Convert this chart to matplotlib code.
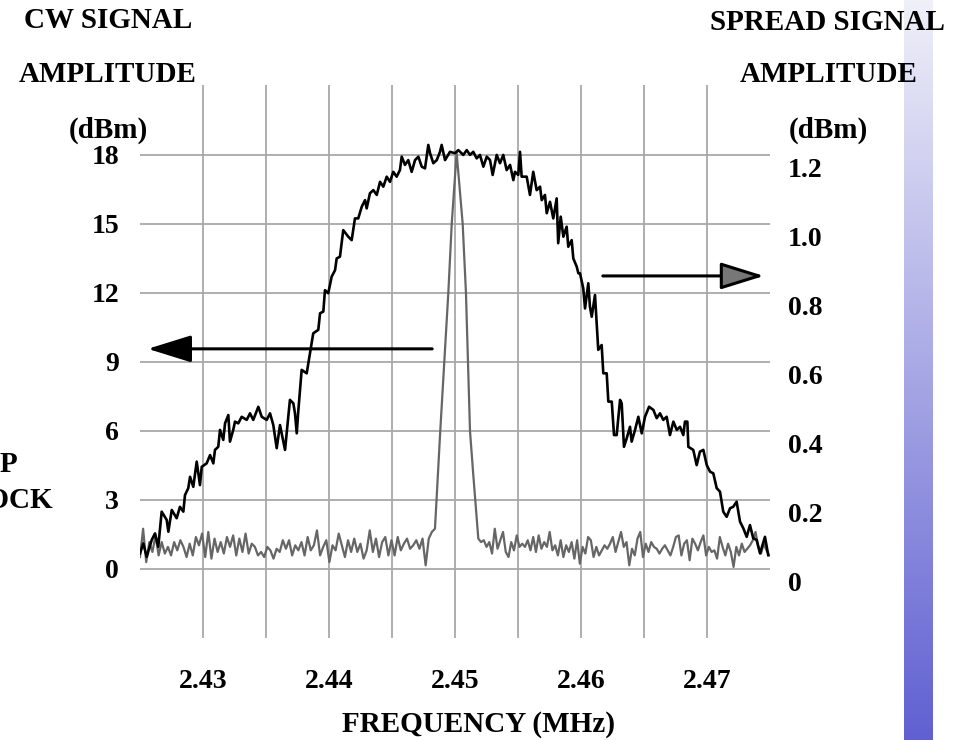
import numpy as np
import matplotlib
matplotlib.use("Agg")
import matplotlib.pyplot as plt

plt.rcParams["font.family"] = ["Liberation Serif", "DejaVu Serif"]
plt.rcParams["font.weight"] = "bold"

# spread signal (black, right axis)
spread_freq = [
    2.42500, 2.42526, 2.42553, 2.42593, 2.42619, 2.42645, 2.42672, 2.42712, 2.42725, 2.42752,
    2.42791, 2.42817, 2.42844, 2.42857, 2.42883, 2.42897, 2.42923, 2.42950, 2.42976, 2.42990,
    2.43029, 2.43056, 2.43082, 2.43095, 2.43121, 2.43135, 2.43161, 2.43175, 2.43201, 2.43214,
    2.43240, 2.43254, 2.43280, 2.43307, 2.43347, 2.43373, 2.43399, 2.43439, 2.43466, 2.43506,
    2.43532, 2.43558, 2.43585, 2.43611, 2.43651, 2.43690, 2.43717, 2.43730, 2.43744, 2.43756,
    2.43783, 2.43823, 2.43849, 2.43875, 2.43915, 2.43929, 2.43955, 2.43968, 2.43994, 2.44021,
    2.44048, 2.44061, 2.44087, 2.44113, 2.44153, 2.44180, 2.44206, 2.44232, 2.44260, 2.44286,
    2.44299, 2.44325, 2.44352, 2.44379, 2.44405, 2.44431, 2.44458, 2.44484, 2.44510, 2.44537,
    2.44563, 2.44577, 2.44603, 2.44629, 2.44656, 2.44683, 2.44709, 2.44736, 2.44762, 2.44788,
    2.44802, 2.44828, 2.44855, 2.44881, 2.44894, 2.44921,
    2.44960, 2.45000, 2.45026, 2.45066, 2.45093, 2.45119, 2.45145, 2.45172, 2.45198, 2.45225,
    2.45252, 2.45278, 2.45299, 2.45331, 2.45357, 2.45383, 2.45410, 2.45437, 2.45463, 2.45476,
    2.45502, 2.45516, 2.45529, 2.45569, 2.45595, 2.45621, 2.45648, 2.45675, 2.45688, 2.45714,
    2.45728, 2.45754, 2.45780, 2.45807, 2.45819, 2.45839, 2.45860, 2.45886, 2.45899, 2.45926,
    2.45939, 2.45966, 2.45979, 2.45992, 2.46018, 2.46032, 2.46058, 2.46071, 2.46085, 2.46111,
    2.46137, 2.46164, 2.46177, 2.46204, 2.46217, 2.46244, 2.46262, 2.46283, 2.46310, 2.46323,
    2.46341, 2.46363, 2.46389, 2.46402, 2.46429, 2.46455, 2.46482, 2.46508, 2.46540, 2.46574,
    2.46601, 2.46627, 2.46653, 2.46680, 2.46706, 2.46733, 2.46760, 2.46786, 2.46812, 2.46825,
    2.46844, 2.46852, 2.46891, 2.46918, 2.46944, 2.46971, 2.46998, 2.47024, 2.47050, 2.47077,
    2.47103, 2.47129, 2.47156, 2.47183, 2.47208, 2.47235, 2.47262, 2.47288, 2.47315, 2.47341,
    2.47367, 2.47394, 2.47421, 2.47460, 2.47486,
]
spread_amp = [
    0.080, 0.109, 0.070, 0.119, 0.138, 0.099, 0.201, 0.177, 0.143, 0.206,
    0.182, 0.215, 0.201, 0.249, 0.269, 0.302, 0.273, 0.346, 0.278, 0.331,
    0.341, 0.365, 0.341, 0.380, 0.389, 0.438, 0.409, 0.457, 0.481, 0.404,
    0.438, 0.462, 0.457, 0.476, 0.467, 0.486, 0.467, 0.505, 0.476, 0.467,
    0.486, 0.452, 0.385, 0.452, 0.380, 0.525, 0.515, 0.486, 0.428, 0.491,
    0.612, 0.602, 0.660, 0.718, 0.728, 0.776, 0.781, 0.843, 0.834, 0.882,
    0.901, 0.935, 0.940, 1.017, 0.998, 0.988, 1.051, 1.051, 1.085, 1.104,
    1.080, 1.124, 1.133, 1.119, 1.157, 1.143, 1.172, 1.157, 1.186, 1.172,
    1.191, 1.230, 1.206, 1.220, 1.186, 1.220, 1.230, 1.201, 1.196, 1.264,
    1.240, 1.211, 1.220, 1.244, 1.264, 1.220,
    1.244, 1.240, 1.249, 1.235, 1.249, 1.235, 1.244, 1.225, 1.235, 1.201,
    1.230, 1.220, 1.177, 1.235, 1.211, 1.235, 1.191, 1.206, 1.162, 1.186,
    1.177, 1.244, 1.172, 1.172, 1.119, 1.186, 1.133, 1.143, 1.104, 1.119,
    1.066, 1.099, 1.051, 1.109, 0.979, 1.056, 0.998, 1.027, 0.969, 0.988,
    0.935, 0.911, 0.892, 0.892, 0.848, 0.790, 0.863, 0.795, 0.766, 0.829,
    0.670, 0.684, 0.602, 0.602, 0.520, 0.520, 0.423, 0.423, 0.525, 0.515,
    0.389, 0.414, 0.447, 0.404, 0.438, 0.476, 0.428, 0.476, 0.505, 0.496,
    0.472, 0.486, 0.467, 0.476, 0.423, 0.462, 0.438, 0.447, 0.423, 0.462,
    0.462, 0.389, 0.380, 0.336, 0.375, 0.380, 0.336, 0.317, 0.312, 0.269,
    0.259, 0.201, 0.186, 0.211, 0.215, 0.230, 0.172, 0.153, 0.128, 0.162,
    0.124, 0.119, 0.080, 0.128, 0.075,
]

# CW signal (gray, left axis): noise floor left, peak, noise floor right
cw_left_amp = [
    0.52, 1.75, 0.30, 1.17, 0.74, 1.46, 0.59, 1.17, 0.67, 0.96, 0.59, 1.17, 0.81, 1.25, 0.96, 0.52,
    1.10, 0.59, 1.39, 1.03, 1.54, 0.52, 1.61, 0.45, 1.32, 0.74, 1.17, 0.67, 1.39, 0.96, 1.46, 0.59,
    1.32, 0.74, 1.54, 0.67, 1.10, 0.96, 0.59, 0.74, 0.52, 0.96, 0.81, 0.45, 0.88, 0.74, 1.25, 0.88,
    1.25, 0.59, 1.03, 0.81, 1.17, 0.59, 1.39, 0.81, 1.03, 1.68, 0.59, 0.96, 1.25, 0.30, 1.03, 0.81,
    1.54, 1.03, 0.52, 1.25, 0.74, 1.32, 0.74, 1.10, 0.45, 0.81, 1.68, 0.74, 1.32, 0.52, 1.17, 1.39,
    0.59, 1.25, 0.59, 1.39, 0.81, 1.10, 1.32, 0.88, 1.03, 1.25, 0.88, 1.32, 0.16, 1.32, 1.61, 1.75,
]
cw_peak_freq = [2.44883, 2.44947, 2.44974, 2.45013, 2.45061, 2.45087, 2.45119, 2.45145]
cw_peak_amp = [6.0, 12.0, 15.0, 18.1, 15.0, 12.0, 6.0, 4.1]
cw_right_amp = [
    1.32, 1.17, 1.25, 0.96, 1.17, 0.67, 1.75, 0.88, 1.25, 1.61, 0.74, 0.52, 1.17, 0.81, 1.46, 0.96,
    1.10, 0.96, 1.25, 0.81, 1.39, 0.74, 1.46, 0.88, 1.17, 0.96, 1.61, 0.81, 1.03, 0.59, 1.25, 0.52,
    1.03, 0.74, 1.17, 0.45, 1.25, 0.23, 0.96, 0.67, 1.39, 1.25, 0.52, 0.96, 0.59, 0.81, 1.03, 0.88,
    1.10, 1.39, 0.74, 1.17, 1.61, 0.96, 1.17, 0.16, 0.88, 0.59, 1.32, 1.61, 0.52, 1.10, 0.74, 1.17,
    0.96, 0.88, 0.67, 0.88, 1.03, 0.81, 0.59, 0.96, 1.39, 1.46, 0.59, 1.10, 1.25, 0.38, 1.32, 1.10,
    0.81, 1.17, 1.46, 0.59, 0.96, 0.74, 0.81, 0.45, 1.39, 0.96, 0.59, 1.10, 0.74, 0.09, 0.96, 0.59,
    1.10, 0.74, 0.88, 1.03, 1.25, 1.61, 0.96, 0.67, 1.10, 0.81, 0.59,
]

freq_ticks = [2.43, 2.44, 2.45, 2.46, 2.47]
freq_grid = [2.435, 2.445, 2.455, 2.465]
cw_ticks = [0, 3, 6, 9, 12, 15, 18]
spread_ticks = [0, 0.2, 0.4, 0.6, 0.8, 1.0, 1.2]
spread_labels = ["0", "0.2", "0.4", "0.6", "0.8", "1.0", "1.2"]

cw_freq = np.concatenate([
    np.linspace(2.4250, 2.44841, len(cw_left_amp)),
    cw_peak_freq,
    np.linspace(2.45185, 2.47494, len(cw_right_amp)),
])
cw_amp = np.concatenate([cw_left_amp, cw_peak_amp, cw_right_amp])

W, H = 965, 740
fig = plt.figure(figsize=(W / 100, H / 100), dpi=100)
ax = fig.add_axes([140 / W, 102 / H, 630 / W, 553 / H])
ax2 = ax.twinx()

ax.set_xlim(2.425, 2.475)
ax.set_ylim(-3, 21.04)
ax2.set_ylim(-0.1652, 1.4377)

ax.set_xticks(freq_ticks)
ax.set_xticks(freq_grid, minor=True)
ax.set_xticklabels([f"{v:.2f}" for v in freq_ticks])
ax.set_yticks(cw_ticks)
ax.set_yticklabels([str(v) for v in cw_ticks])
ax2.set_yticks(spread_ticks)
ax2.set_yticklabels(spread_labels)

grid_color = "#a8a8a8"
ax.grid(True, which="both", color=grid_color, lw=1.3)
ax.set_axisbelow(True)
for a in (ax, ax2):
    for s in a.spines.values():
        s.set_visible(False)
ax.tick_params(axis="both", which="both", length=0, labelsize=20)
ax.tick_params(axis="x", pad=22)
ax.tick_params(axis="y", pad=15)
ax2.tick_params(axis="y", length=0, labelsize=20, pad=13)
for lab in ax.get_xticklabels() + ax.get_yticklabels() + ax2.get_yticklabels():
    lab.set_fontweight("bold")

ax.plot(cw_freq, cw_amp, color="#666666", lw=1.6, zorder=3)
ax2.plot(spread_freq, spread_amp, color="black", lw=1.9, zorder=3)

# arrows pointing at each curve's axis
head = "-|>,head_length=1.35,head_width=0.42"
ax2.annotate("", xy=(2.4254, 9.57), xytext=(2.44841, 9.57),
             xycoords=ax.transData, textcoords=ax.transData,
             arrowprops=dict(arrowstyle=head, mutation_scale=20,
                             color="black", lw=2.2))
ax2.annotate("", xy=(2.47474, 12.74), xytext=(2.46151, 12.74),
             xycoords=ax.transData, textcoords=ax.transData,
             arrowprops=dict(arrowstyle=head, mutation_scale=20,
                             fc="#777777", ec="black", lw=2.2))

def ftext(px, py, s, ha="center"):
    fig.text(px / W, 1 - py / H, s, ha=ha, va="center", fontsize=21, fontweight="bold")

ftext(108, 21, "CW SIGNAL")
ftext(108, 74, "AMPLITUDE")
ftext(108, 130, "(dBm)")
ftext(827, 22, "SPREAD SIGNAL")
ftext(829, 74, "AMPLITUDE")
ftext(828, 130, "(dBm)")
ftext(478, 725, "FREQUENCY (MHz)")
ftext(18, 465, "CHIP", ha="right")
ftext(53, 500, "CLOCK", ha="right")

# decorative gradient strip on the right
strip = fig.add_axes([904 / W, 0, 29 / W, 1])
top = np.array([240, 240, 249]) / 255
bottom = np.array([96, 96, 210]) / 255
t = np.linspace(0, 1, 256)[:, None]
grad = top[None, :] * (1 - t) + bottom[None, :] * t
strip.imshow(grad[:, None, :], aspect="auto", extent=[0, 1, 0, 1], origin="upper")
strip.axis("off")

fig.savefig("out.png", dpi=100)
